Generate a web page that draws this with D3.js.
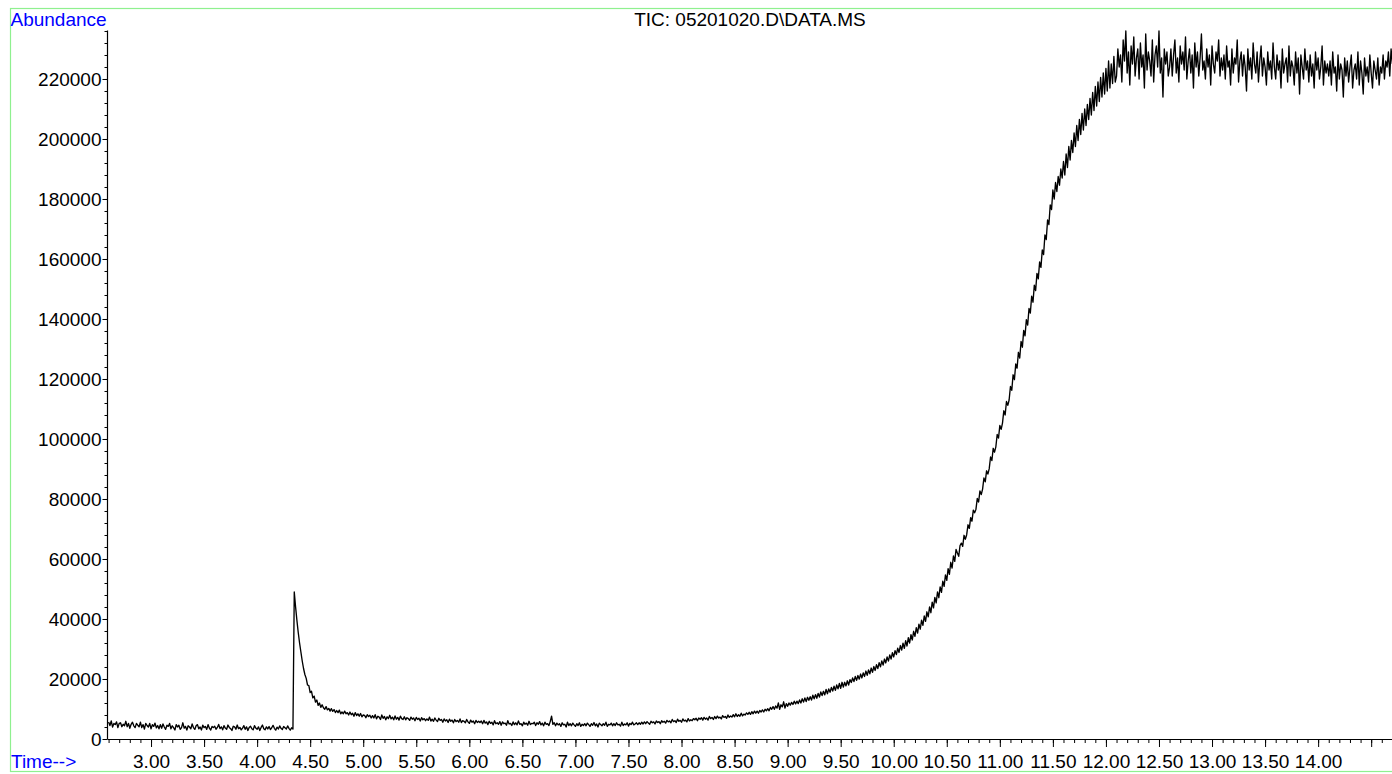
<!DOCTYPE html>
<html>
<head>
<meta charset="utf-8">
<script src="https://cdn.jsdelivr.net/npm/d3@7"></script>
<style>
  html, body { margin: 0; padding: 0; background: #fff; }
  svg { display: block; }
  text { font-family: "Liberation Sans", Arial, sans-serif; }
</style>
</head>
<body>
<svg id="chart" width="1392" height="774"></svg>
<script>
// ---- data ----
const titleText = "TIC: 05201020.D\\DATA.MS";
const yAxisLabel = "Abundance";
const xAxisLabel = "Time-->";
const scanStart = 2.600;   // minutes
const scanStep = 0.0125;   // minutes between values
const abundance = [
  // 2.600 - 3.0875
  5700,4500,6000,4000,5200,4800,5700,3800,5200,5400,4100,4900,4400,5900,4100,5200,3600,4900,5600,4400,3800,5200,4600,4100,5600,3800,4800,3300,5200,4500,4000,5200,3400,4800,4200,5300,3700,4500,3400,4800,
  // 3.100 - 3.5875
  3600,5000,4000,3200,4600,4200,5200,3400,4400,3800,3000,4800,4000,4600,3200,3800,5400,3600,4200,3000,4400,4000,3400,5000,3800,3200,4400,4800,3400,4000,3000,4600,3800,4200,3200,4800,3600,3000,4200,3800,
  // 3.600 - 4.0875
  4250,3250,3850,4850,3450,4050,3050,4450,3650,3250,4650,3850,3450,2850,4250,4050,3250,4650,3450,3850,3050,3650,4450,3250,4050,2850,3850,4250,3450,3050,4450,3650,3250,4050,2850,3850,4650,3450,3050,4050,
  // 4.100 - 4.5875
  3350,4150,3150,3750,4550,3550,2950,3950,3350,4350,3550,3150,4150,3750,3350,4350,3550,2950,3750,3350,49000,44000,39500,35500,32000,29000,26000,23500,21500,20200,18000,17800,15500,15900,13700,14300,12300,13000,11200,12000,
  // 4.600 - 5.0875
  10550,11400,10400,9900,10800,9700,10200,9300,10100,9200,9800,8800,9500,8800,9600,8400,9000,8400,9300,8400,8800,8000,9000,8100,8600,7600,8800,7800,8400,7600,8500,7400,8000,7900,7100,8100,7500,7900,7000,7800,
  // 5.100 - 5.5875
  7000,8100,6700,7600,7300,6500,8000,6900,7500,6400,7400,6800,7900,6700,7300,6400,7700,6600,7200,6300,7600,6800,6500,7400,6400,7100,6800,6200,7300,6600,7000,6100,7200,6500,6900,6000,7100,6400,6800,6100,
  // 5.600 - 6.0875
  6700,6200,7300,6000,6600,5900,7000,6300,5800,6900,6200,6500,5600,6700,6000,6400,5500,6600,5900,6300,5400,6500,5800,6200,5600,6700,5500,6100,5900,5400,6500,5700,5200,6300,5600,6000,5100,6200,5500,5900,
  // 6.100 - 6.5875
  5500,6000,5100,6200,5300,5700,4800,5900,5200,5600,4700,6100,5100,5400,4900,5800,4600,5700,5100,5300,4600,6100,5000,5200,4500,5700,4800,5400,4700,6000,4900,5100,4400,5600,4900,5300,4600,5900,4800,5200,
  // 6.600 - 7.0875
  5100,5600,4500,5400,4900,5800,4700,5300,4400,5600,4900,5100,4500,5800,7600,4900,5400,4400,5300,4700,5100,4200,5400,4700,4900,4000,5600,4500,5100,4400,5300,4700,4200,5100,4500,5400,4200,4900,4500,5100,
  // 7.100 - 7.5875
  4400,5300,4800,4200,5100,4600,5500,4400,5000,4000,5300,4800,4400,5100,4600,5600,4200,4900,4700,5300,4400,5100,4500,5400,4700,4900,4300,5600,4500,5000,4700,5400,4300,5200,4800,5600,4700,5000,5400,4800,
  // 7.600 - 8.0875
  5400,4900,5600,5000,5700,5100,5800,5300,4900,5900,5400,5700,5000,6000,5500,5800,5100,6100,5600,5900,5300,6200,5700,6000,5400,6500,5800,6100,5500,6600,5900,6200,5600,6700,6000,6300,5700,6800,6000,6400,
  // 8.100 - 8.5875
  6100,6800,6400,6900,6100,7000,6600,7100,6300,7200,6600,7000,6300,7500,6800,7200,6500,7500,6800,7600,7000,7300,6700,7800,7200,7500,6900,8000,7200,7700,7300,8100,7400,8400,7500,8100,7600,8600,7700,8300,
  // 8.600 - 9.0875
  8000,8700,8200,8900,8200,9100,8400,9300,8600,9300,8600,9500,9000,9700,9000,9900,9400,10100,9400,10500,9900,10800,9900,11000,10300,12000,9900,11400,10700,12400,10300,11800,10900,12000,11300,12200,11500,12600,11700,12600,
  // 9.100 - 9.5875
  11800,13000,12000,13400,12300,13700,12500,13900,12900,14100,13000,14600,13400,14800,13600,15200,14000,15700,14500,15900,14700,16500,15100,16700,15600,17200,16000,17600,16200,18000,16700,18500,16900,18900,17300,18900,17700,19400,18000,19800,
  // 9.600 - 10.0875
  18850,20350,19150,20850,19550,21150,19950,21650,20350,22050,20850,22650,21250,23050,21750,23650,22250,24150,22850,24750,23450,25450,24050,26050,24650,26650,25350,27350,25950,28050,26650,28750,27350,29450,28150,30250,28850,31150,29650,31950,
  // 10.100 - 10.5875
  30200,32800,31000,33800,32000,34800,33000,35900,34200,37100,35300,38300,36600,39600,37900,41000,39200,42400,40700,44000,42100,45600,43700,47200,45400,49000,47100,50700,48900,52600,50900,54700,52900,56800,54900,58900,57000,61000,59200,63200,
  // 10.600 - 11.0875
  62000,60900,64500,65300,64200,67900,66600,68100,71400,70200,73800,72600,76300,75400,76600,80200,79000,82700,81500,83300,87000,85700,89400,88300,90100,94000,92800,96900,95600,97400,101500,100300,104500,103200,105300,109400,108000,112500,111200,113000,
  // 11.100 - 11.5875
  117500,116200,121400,119800,125000,123600,128900,127000,132500,130600,136200,134400,139800,138000,143500,142000,147600,145600,151300,149500,155200,153400,159000,157200,163000,161500,168000,166500,173000,171500,178000,176500,183000,180000,185500,182500,187500,184600,190000,187000,
  // 11.600 - 12.0875
  192500,188000,195000,190500,197500,193000,199500,195500,202000,197500,204500,199500,206500,201500,208500,203000,210000,204500,211500,206500,213500,208000,215500,209500,217500,211000,219000,212500,220500,214000,222000,215000,223500,216000,226000,217000,225000,218500,227500,219000,
  // 12.100 - 12.5875
  221000,230000,224000,228000,219000,233000,226000,236000,222000,229000,218000,231000,225000,234000,221000,227000,230000,220000,232000,224000,228000,217000,235000,223000,229000,226000,221000,233000,219000,228000,231000,224000,236000,222000,227000,214000,230000,225000,229000,221000,
  // 12.600 - 13.0875
  224000,230000,221000,228000,233000,222000,227000,219000,231000,225000,229000,223000,234000,220000,226000,230000,222000,228000,217000,232000,224000,229000,221000,227000,235000,223000,226000,220000,230000,224000,228000,218000,231000,225000,222000,229000,226000,233000,221000,227000,
  // 13.100 - 13.5875
  223000,228000,220000,231000,224000,226000,218000,230000,222000,227000,225000,233000,219000,226000,229000,221000,228000,224000,216000,230000,223000,227000,220000,232000,225000,222000,229000,219000,226000,231000,221000,227000,224000,218000,229000,223000,226000,220000,232000,224000,
  // 13.600 - 14.0875
  220000,228000,223000,226000,217000,230000,222000,225000,227000,219000,231000,221000,226000,224000,218000,229000,222000,227000,215000,228000,224000,220000,230000,223000,226000,219000,228000,221000,225000,217000,229000,223000,227000,220000,224000,231000,218000,226000,222000,225000,
  // 14.100 - 14.5875
  221000,226000,218000,229000,222000,224000,216000,228000,220000,225000,223000,214000,227000,221000,226000,219000,224000,228000,217000,223000,225000,220000,229000,218000,226000,222000,215000,227000,221000,224000,219000,228000,222000,217000,226000,223000,220000,227000,218000,224000,
  // 14.600 - 14.700
  222000,228000,220000,226000,224000,229000,221000,230000,225000
];
const xMajorTicks = [3.0, 3.5, 4.0, 4.5, 5.0, 5.5, 6.0, 6.5, 7.0, 7.5, 8.0, 8.5, 9.0, 9.5, 10.0, 10.5, 11.0, 11.5, 12.0, 12.5, 13.0, 13.5, 14.0, 14.5];
const xLabelledMax = 14.0;
const yMajorTicks = [0, 20000, 40000, 60000, 80000, 100000, 120000, 140000, 160000, 180000, 200000, 220000];
const xDomain = [2.585, 14.70];
const yDomain = [0, 236333];
const xMinorStep = 0.1;
const yMinorStep = 4000;

// ---- drawing ----
const svg = d3.select("#chart");
const plotLeft = 107, plotRight = 1392.4, plotTop = 30, plotBottom = 739;
const fs = "19px";

const x = d3.scaleLinear().domain(xDomain).range([plotLeft, plotRight]);
const y = d3.scaleLinear().domain(yDomain).range([plotBottom, plotTop]);

// green frame
svg.append("rect")
  .attr("x", 10.5).attr("y", 8.5)
  .attr("width", 1400).attr("height", 763)
  .attr("fill", "none").attr("stroke", "#8ff08f").attr("stroke-width", 1.2);

const data = abundance.map((v, i) => ({ t: scanStart + i * scanStep, v }));

// minor ticks
const xMinor = d3.range(Math.ceil(xDomain[0] / xMinorStep) * xMinorStep, xDomain[1] + 1e-9, xMinorStep);
svg.append("g")
  .attr("transform", `translate(0,${plotBottom})`)
  .call(d3.axisBottom(x).tickValues(xMinor).tickSize(4).tickSizeOuter(0).tickFormat(""))
  .call(g => g.select(".domain").remove())
  .call(g => g.selectAll("line").attr("stroke", "#000"));

const yMinor = d3.range(0, yDomain[1], yMinorStep);
svg.append("g")
  .attr("transform", `translate(${plotLeft},0)`)
  .call(d3.axisLeft(y).tickValues(yMinor).tickSize(2.5).tickSizeOuter(0).tickFormat(""))
  .call(g => g.select(".domain").remove())
  .call(g => g.selectAll("line").attr("stroke", "#000"));

// major x axis
const xAxis = svg.append("g")
  .attr("transform", `translate(0,${plotBottom})`)
  .call(d3.axisBottom(x).tickValues(xMajorTicks).tickSize(8).tickSizeOuter(0)
    .tickFormat(d => d <= xLabelledMax + 1e-9 ? d3.format(".2f")(d) : ""));
xAxis.select(".domain").attr("stroke", "#000").attr("stroke-width", 1.2);
xAxis.selectAll(".tick line").attr("stroke", "#000");
xAxis.selectAll(".tick text")
  .attr("font-size", fs).attr("font-family", "Liberation Sans, Arial, sans-serif")
  .attr("fill", "#000").attr("y", 0).attr("dy", null)
  .attr("transform", "translate(0,29)");

// major y axis
const yAxis = svg.append("g")
  .attr("transform", `translate(${plotLeft},0)`)
  .call(d3.axisLeft(y).tickValues(yMajorTicks).tickSize(4.5).tickSizeOuter(0).tickFormat(d3.format("d")));
yAxis.select(".domain").attr("stroke", "#000").attr("stroke-width", 1.2);
yAxis.selectAll(".tick line").attr("stroke", "#000");
yAxis.selectAll(".tick text")
  .attr("font-size", fs).attr("font-family", "Liberation Sans, Arial, sans-serif")
  .attr("fill", "#000").attr("x", -5.5).attr("dy", "0.36em");

// signal
const line = d3.line().x(d => x(d.t)).y(d => y(d.v));
svg.append("path")
  .datum(data)
  .attr("d", line)
  .attr("fill", "none")
  .attr("stroke", "#000")
  .attr("stroke-width", 1.35)
  .attr("stroke-linejoin", "round");

// texts
svg.append("text").attr("x", 10.5).attr("y", 26).attr("fill", "#0000ff")
  .attr("font-size", fs).text(yAxisLabel);
svg.append("text").attr("x", 750).attr("y", 26).attr("text-anchor", "middle").attr("fill", "#000")
  .attr("font-size", fs).text(titleText);
svg.append("text").attr("x", 11).attr("y", 768).attr("fill", "#0000ff")
  .attr("font-size", fs).text(xAxisLabel);
</script>
</body>
</html>
